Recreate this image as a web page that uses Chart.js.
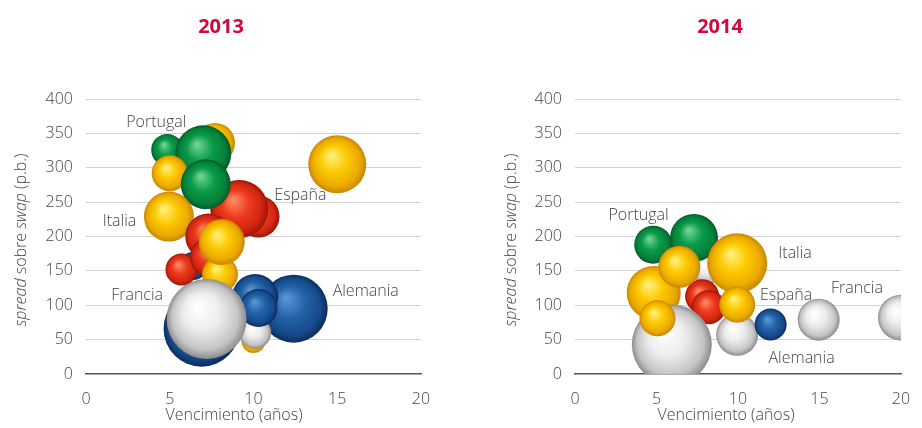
<!DOCTYPE html>
<html>
<head>
<meta charset="utf-8">
<script src="https://cdn.jsdelivr.net/npm/chart.js@4.4.1/dist/chart.umd.min.js"></script>
<style>
  html, body { margin: 0; padding: 0; background: #fff; overflow: hidden; width: 922px; height: 428px; }
  #c2013 { position: absolute; left: 0; top: 0; }
  #c2014 { position: absolute; left: 461px; top: 0; }
</style>
</head>
<body>
<canvas id="c2013" width="461" height="428"></canvas>
<canvas id="c2014" width="480" height="428"></canvas>
<script>
// --- datos ---
// cada burbuja: país, vencimiento (años), spread (p.b.), tamaño de la burbuja
// el orden es el de dibujo (las últimas quedan delante)
const pais2013 = ['Italia', 'Portugal', 'Portugal', 'Italia', 'España', 'España', 'Portugal', 'Italia',
                  'Francia', 'España', 'España', 'España', 'Italia', 'Italia', 'Italia', 'Francia',
                  'Italia', 'Alemania', 'Francia', 'Francia', 'Francia', 'Alemania'];
const venc2013 = [7.7, 4.85, 7.0, 5.0, 10.3, 9.15, 7.15, 4.95, 6.4, 5.7, 7.3, 7.4, 8.0, 8.1, 15.0, 12.4,
                  10.0, 10.1, 10.1, 10.3, 6.9, 7.2];
const spread2013 = [336, 326, 321, 292, 229, 240, 276, 229, 157, 152, 200, 170, 145, 192, 305, 95,
                    48, 60, 112, 96, 66, 80];
const tam2013 = [20, 16, 28, 18, 21, 29, 25, 25, 14, 16, 23, 20, 18, 23, 29, 34, 12, 16, 23, 19, 38, 40];

const pais2014 = ['Alemania', 'Portugal', 'Portugal', 'España', 'España', 'Italia', 'Italia', 'Italia',
                  'Alemania', 'Italia', 'Alemania', 'Italia', 'Francia', 'Alemania', 'Alemania'];
const venc2014 = [8.1, 4.8, 7.3, 7.8, 8.2, 9.95, 4.83, 6.4, 5.94, 5.06, 9.95, 9.95, 12.0, 14.95, 20.0];
const spread2014 = [152, 188, 198, 113, 97, 161, 118, 156, 43, 81, 57, 101, 72, 79, 82];
const tam2014 = [15, 19, 24, 17, 17, 30, 27, 21, 40, 18, 21, 18, 16, 21, 23];

const etiquetas = ['Portugal', 'Italia', 'España', 'Francia', 'Alemania'];
const etiquetaX2013 = [4.2, 2.0, 12.8, 3.05, 16.7];
const etiquetaY2013 = [366, 222, 260, 115, 120];
const etiquetaX2014 = [3.9, 13.5, 12.95, 17.3, 13.9];
const etiquetaY2014 = [230, 176, 115, 125, 22];

const ejeX = { min: 0, max: 20, paso: 5 };
const ejeY = { min: 0, max: 400, paso: 50 };

// --- colores de las esferas: brillo, base, sombra, borde ---
const colores = {
  Portugal: ['#6fd395', '#0b9b4a', '#04803a', '#015a27'],
  Italia:   ['#fff07a', '#fcc900', '#eaa900', '#c98500'],
  'España': ['#ff8a66', '#ec3a1c', '#cf2511', '#9a1507'],
  Francia:  ['#5a95d2', '#2262a8', '#164a8a', '#0b2c5e'],
  Alemania: ['#ffffff', '#ececec', '#c4c4c4', '#8c8c8c']
};

const fuente = '"Open Sans", "Noto Sans", sans-serif';
const gris = '#444';

function esfera(ctx, paises) {
  const pal = colores[paises[ctx.dataIndex]] || colores.Alemania;
  const chart = ctx.chart;
  const p = ctx.raw;
  if (ctx.type !== 'data' || !p || !chart.chartArea) return pal[1];
  const cx = chart.scales.x.getPixelForValue(p.x);
  const cy = chart.scales.y.getPixelForValue(p.y);
  const r = p.r;
  const g = chart.ctx.createRadialGradient(cx - r * 0.22, cy - r * 0.32, r * 0.04, cx, cy, r);
  g.addColorStop(0, pal[0]);
  g.addColorStop(0.45, pal[1]);
  g.addColorStop(0.82, pal[2]);
  g.addColorStop(1, pal[3]);
  return g;
}

// las burbujas se recortan al área del gráfico
const recorte = {
  id: 'recorte',
  beforeDatasetsDraw(chart) {
    const a = chart.chartArea;
    chart.ctx.save();
    chart.ctx.beginPath();
    chart.ctx.rect(a.left, 0, a.right - a.left, a.bottom);
    chart.ctx.clip();
  },
  afterDatasetsDraw(chart) {
    chart.ctx.restore();
  }
};

// títulos, títulos de ejes y nombres de países
const textos = {
  id: 'textos',
  afterDraw(chart, args, opts) {
    const { ctx, scales } = chart;
    ctx.save();
    ctx.textBaseline = 'middle';
    ctx.textAlign = 'center';

    ctx.font = 'bold 20px ' + fuente;
    ctx.fillStyle = '#cf0a3c';
    ctx.fillText(opts.titulo, opts.tituloX, 27);

    ctx.font = '300 16px ' + fuente;
    ctx.fillStyle = gris;
    ctx.fillText('Vencimiento (años)', opts.ejeXTituloX, 415);

    opts.etiquetas.forEach((t, i) => {
      ctx.fillText(t, scales.x.getPixelForValue(opts.ex[i]), scales.y.getPixelForValue(opts.ey[i]));
    });

    // título del eje Y con partes en cursiva
    const partes = [['spread', true], [' sobre ', false], ['swap', true], [' (p.b.)', false]];
    let total = 0;
    partes.forEach(pt => {
      ctx.font = (pt[1] ? 'italic 300 16px ' : '300 16px ') + fuente;
      pt.push(ctx.measureText(pt[0]).width);
      total += pt[2];
    });
    ctx.translate(opts.ejeYTituloX, 240);
    ctx.rotate(-Math.PI / 2);
    ctx.textAlign = 'left';
    let x = -total / 2;
    partes.forEach(pt => {
      ctx.font = (pt[1] ? 'italic 300 16px ' : '300 16px ') + fuente;
      ctx.fillText(pt[0], x, 0);
      x += pt[2];
    });
    ctx.restore();
  }
};

function crear(id, paises, venc, spread, tam, cfg) {
  new Chart(document.getElementById(id), {
    type: 'bubble',
    data: {
      datasets: [{
        data: venc.map((v, i) => ({ x: v, y: spread[i], r: tam[i] })),
        backgroundColor: ctx => esfera(ctx, paises),
        borderWidth: 0,
        hoverRadius: 0,
        clip: false
      }]
    },
    options: {
      responsive: false,
      animation: false,
      events: [],
      layout: { padding: { top: 99, right: cfg.derecha, bottom: 0, left: 0 } },
      plugins: {
        legend: { display: false },
        tooltip: { enabled: false },
        textos: cfg.textos
      },
      scales: {
        x: {
          type: 'linear',
          min: ejeX.min, max: ejeX.max,
          ticks: { stepSize: ejeX.paso, padding: 8, color: gris, font: { family: fuente, size: 16, weight: 300 } },
          grid: { display: false },
          border: { display: true, color: '#555', width: 1.5 },
          afterFit: s => { s.height = 54; }
        },
        y: {
          min: ejeY.min, max: ejeY.max,
          ticks: { stepSize: ejeY.paso, padding: 13, color: gris, font: { family: fuente, size: 16, weight: 300 } },
          grid: { color: c => c.tick && c.tick.value === 0 ? 'rgba(0,0,0,0)' : '#d2d2d2', drawTicks: false, lineWidth: 1 },
          border: { display: false },
          afterFit: s => { s.width = cfg.anchoY; }
        }
      }
    },
    plugins: [recorte, textos]
  });
}

crear('c2013', pais2013, venc2013, spread2013, tam2013, {
  derecha: 35, anchoY: 86,
  textos: { titulo: '2013', tituloX: 221, ejeXTituloX: 234, ejeYTituloX: 21,
            etiquetas: etiquetas, ex: etiquetaX2013, ey: etiquetaY2013 }
});
crear('c2014', pais2014, venc2014, spread2014, tam2014, {
  derecha: 25, anchoY: 114,
  textos: { titulo: '2014', tituloX: 259, ejeXTituloX: 265, ejeYTituloX: 50,
            etiquetas: etiquetas, ex: etiquetaX2014, ey: etiquetaY2014 }
});
</script>
</body>
</html>
